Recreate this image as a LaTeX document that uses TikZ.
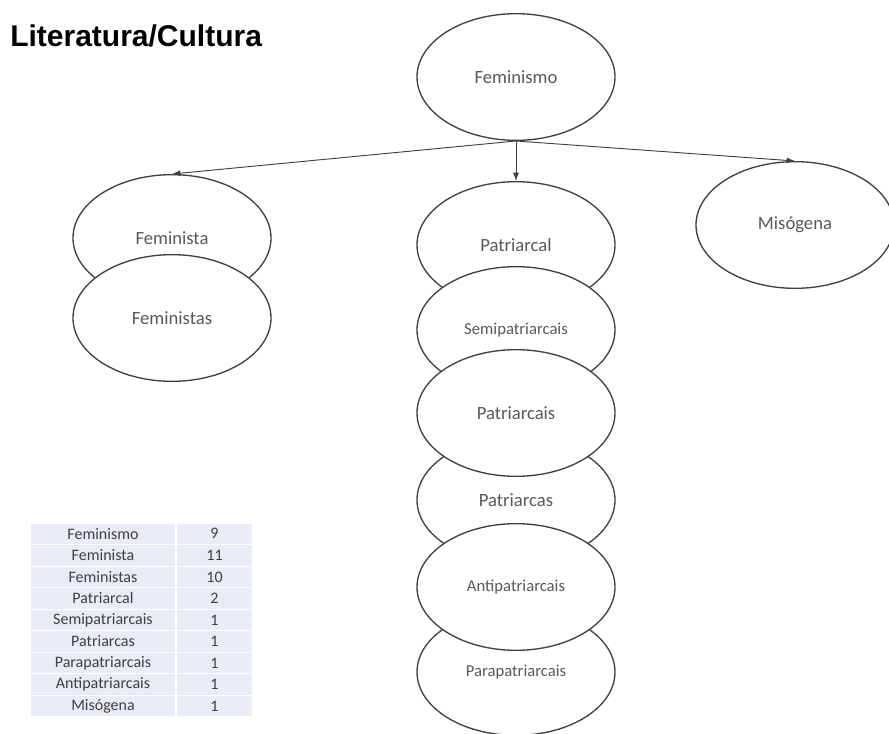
\documentclass[tikz,border=0pt]{standalone}
\usepackage{fontspec}
\setmainfont{Carlito}
\newfontfamily\titlefont{Liberation Sans}
\usetikzlibrary{arrows.meta,positioning,shapes.geometric}
\definecolor{inkgray}{HTML}{404040}
\definecolor{wordgray}{HTML}{595959}
\definecolor{cellblue}{HTML}{E9EBF5}

\begin{document}
\begin{tikzpicture}[
  x=0.75pt, y=-0.75pt,
  word/.style={draw=inkgray, ellipse, fill=white, line width=1pt, text=wordgray,
               minimum width=148.5pt, minimum height=95pt, inner sep=1pt,
               font=\fontsize{14}{16}\selectfont},
  smallword/.style={word, font=\fontsize{12.5}{14}\selectfont},
  heading/.style={font=\titlefont\bfseries\fontsize{22.5}{26}\selectfont, inner sep=0pt},
  cell/.style={fill=cellblue, draw=white, line width=0.8pt, inner sep=0pt,
               minimum height=16.16pt, text=inkgray, font=\fontsize{12}{14}\selectfont},
  arr/.style={-{Latex[length=2.2mm, width=1.6mm]}, draw=inkgray, line width=0.7pt}
]
\useasboundingbox (0,0) rectangle (889,734);

\node[heading, anchor=base west] (title) at (10,47) {Literatura/Cultura};

\node[word] (fem) at (516,77) {Feminismo};

% left branch
\node[word] (fta)  at (172,238) {Feminista};
\node[word] (ftas) at (172,318) {Feministas};

% right branch
\node[word] (mis) at (795,225) {Misógena};

% middle column (stacking order as in the original)
\node[word]      (pal)  at (516,245) {Patriarcal};
\node[smallword] (semi) at (516,330) {Semipatriarcais};
\node[word]      (pcas) at (516,500) {Patriarcas};
\node[smallword] (para) at (516,672) {Parapatriarcais};
\node[word]      (pais) at (516,413) {Patriarcais};
\node[smallword] (anti) at (516,587) {Antipatriarcais};

\draw[arr] (fem.south) -- (fta.north);
\draw[arr] (fem.south) -- (pal.north);
\draw[arr] (fem.south) -- (mis.north);

% frequency table
\foreach \term/\count [count=\i] in {Feminismo/9, Feminista/11, Feministas/10,
    Patriarcal/2, Semipatriarcais/1, Patriarcas/1, Parapatriarcais/1,
    Antipatriarcais/1, Misógena/1} {
  \node[cell, minimum width=109.5pt] (term\i) at (103,{523+21.55*(\i-0.5)}) {\term};
  \node[cell, minimum width=57.75pt] (count\i) at (214.5,{523+21.55*(\i-0.5)}) {\count};
}
\end{tikzpicture}
\end{document}
